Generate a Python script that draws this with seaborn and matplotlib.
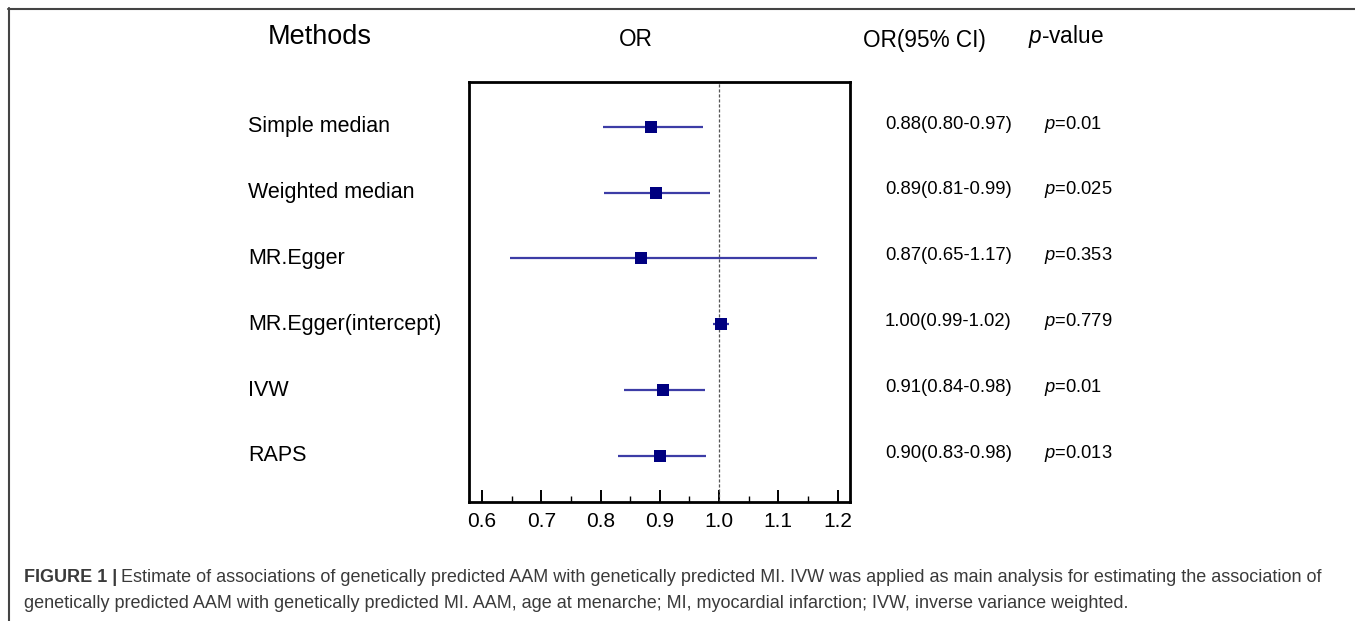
import pandas as pd
import matplotlib.pyplot as plt
import seaborn as sns
from matplotlib.lines import Line2D
from matplotlib.transforms import blended_transform_factory
from matplotlib.ticker import MultipleLocator

# -------------------- Data --------------------
methods = ["Simple median", "Weighted median", "MR.Egger",
           "MR.Egger(intercept)", "IVW", "RAPS"]
or_est = [0.885, 0.893, 0.868, 1.003, 0.905, 0.900]
ci_low = [0.804, 0.806, 0.648, 0.990, 0.840, 0.830]
ci_high = [0.973, 0.984, 1.165, 1.016, 0.977, 0.978]
or_text = ["0.88(0.80-0.97)", "0.89(0.81-0.99)", "0.87(0.65-1.17)",
           "1.00(0.99-1.02)", "0.91(0.84-0.98)", "0.90(0.83-0.98)"]
p_text = ["0.01", "0.025", "0.353", "0.779", "0.01", "0.013"]
xticks = [0.6, 0.7, 0.8, 0.9, 1.0, 1.1, 1.2]

df = pd.DataFrame({"method": methods, "OR": or_est, "lo": ci_low, "hi": ci_high,
                   "row": range(1, len(methods) + 1)})

# -------------------- Style --------------------
sns.set_style("white")
plt.rcParams["font.family"] = ["Liberation Sans", "DejaVu Sans"]
plt.rcParams["text.color"] = "black"
plt.rcParams["xtick.color"] = "black"
plt.rcParams["mathtext.fontset"] = "custom"
plt.rcParams["mathtext.rm"] = "Liberation Sans"
plt.rcParams["mathtext.it"] = "Liberation Sans:italic"

W, H = 1355, 621
fig = plt.figure(figsize=(W / 100, H / 100), dpi=100)
ax = fig.add_axes([469 / W, 1 - 502 / H, (850 - 469) / W, (502 - 82) / H])

# -------------------- Forest plot --------------------
ax.hlines(df["row"], df["lo"], df["hi"], color="#3c3ca6", lw=1.6, zorder=2)
sns.scatterplot(data=df, x="OR", y="row", marker="s", s=75, color="#000080",
                edgecolor="#000080", linewidth=0, ax=ax, zorder=3, legend=False)
ax.axvline(1.0, color="#555555", lw=0.9, ls=(0, (2.5, 1.5)), zorder=1)

ax.set_xlim(0.578, 1.221)
ax.set_ylim(6.7, 0.32)
ax.set_xticks(xticks)
ax.set_xticklabels([f"{t:.1f}" for t in xticks], fontsize=15)
ax.xaxis.set_minor_locator(MultipleLocator(0.05))
ax.set_yticks([])
ax.set_xlabel("")
ax.set_ylabel("")
ax.tick_params(axis="x", which="major", direction="in", length=9, width=1.4,
               bottom=True, pad=7, colors="black")
ax.tick_params(axis="x", which="minor", direction="in", length=4, width=1.0,
               bottom=True)
for sp in ax.spines.values():
    sp.set_linewidth(2.0)
    sp.set_color("black")

# -------------------- Table text --------------------
tr = blended_transform_factory(fig.transFigure, ax.transData)
for i, r in df.iterrows():
    ax.text(248 / W, r["row"], r["method"], transform=tr, fontsize=15.5,
            va="center", ha="left")
    ax.text(885 / W, r["row"] - 0.04, or_text[i], transform=tr, fontsize=13.3,
            va="center", ha="left")
    ax.text(1044 / W, r["row"] - 0.04, f"$p$={p_text[i]}", transform=tr,
            fontsize=13.2, va="center", ha="left")

fig.text(268 / W, 1 - 37 / H, "Methods", fontsize=19.5, va="center", ha="left")
fig.text(636 / W, 1 - 40 / H, "OR", fontsize=16.3, va="center", ha="center")
fig.text(863 / W, 1 - 40 / H, "OR(95% CI)", fontsize=16.3, va="center", ha="left")
fig.text(1028 / W, 1 - 36 / H, "$p$-value", fontsize=16.3, va="center", ha="left")

# -------------------- Outer frame --------------------
fig.add_artist(Line2D([8 / W, 1], [1 - 8.5 / H, 1 - 8.5 / H],
                      transform=fig.transFigure, color="#444444", lw=1.5))
fig.add_artist(Line2D([8.5 / W, 8.5 / W], [0, 1 - 8 / H],
                      transform=fig.transFigure, color="#444444", lw=1.5))

# -------------------- Caption --------------------
cap_font = ["Liberation Sans Narrow", "Liberation Sans"]
cap_col = "#3a3a3a"
t1 = fig.text(24 / W, 1 - 577 / H, "FIGURE 1 |", fontsize=13, fontweight="bold",
              va="center", ha="left", color=cap_col, family=cap_font)
fig.canvas.draw()
bb = t1.get_window_extent()
fig.text((bb.x1 + 4) / W, 1 - 577 / H,
         "Estimate of associations of genetically predicted AAM with genetically "
         "predicted MI. IVW was applied as main analysis for estimating the association of",
         fontsize=13, va="center", ha="left", color=cap_col, family=cap_font)
fig.text(24 / W, 1 - 603 / H,
         "genetically predicted AAM with genetically predicted MI. AAM, age at menarche; "
         "MI, myocardial infarction; IVW, inverse variance weighted.",
         fontsize=13, va="center", ha="left", color=cap_col, family=cap_font)

fig.savefig("out.png", dpi=100)
